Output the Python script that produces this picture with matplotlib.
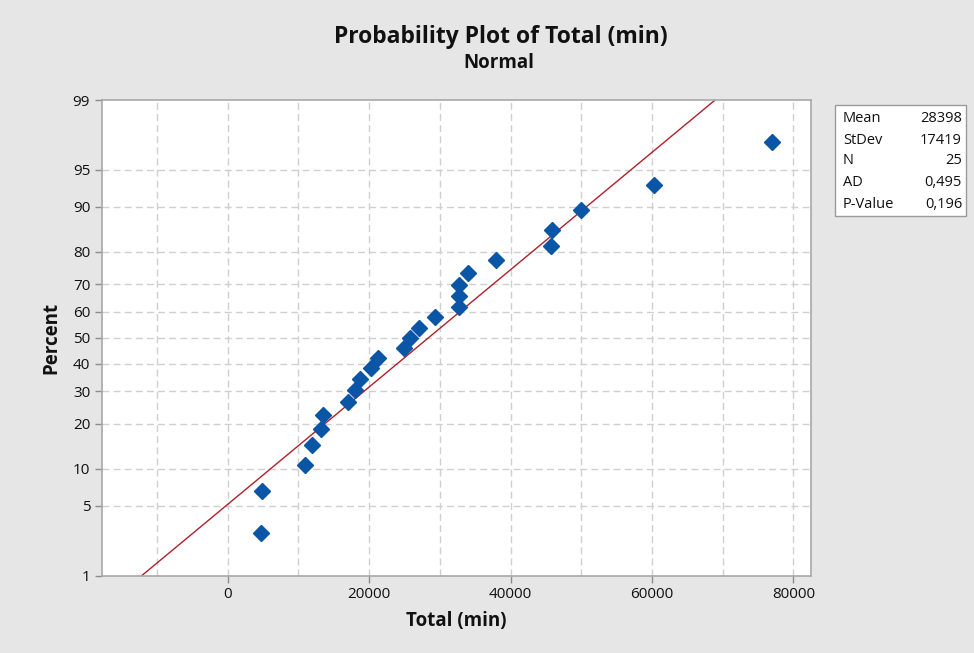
import numpy as np
import matplotlib
matplotlib.use("Agg")
import matplotlib.pyplot as plt
from matplotlib.patches import Rectangle
from statistics import NormalDist

# ---- data ----
total_min = [4650, 4850, 10880, 11980, 13130, 13530, 16970, 17940, 18720, 20270,
             21250, 24900, 25740, 27110, 29370, 32750, 32750, 32750, 34050, 37880,
             45680, 45880, 50020, 60350, 76980]
percent = [2.8, 6.7, 10.6, 14.6, 18.5, 22.4, 26.4, 30.3, 34.3, 38.2, 42.1, 46.1,
           50.0, 53.9, 57.9, 61.8, 65.7, 69.7, 73.6, 77.6, 81.5, 85.4, 89.4, 93.3, 97.2]
fit_mean = 28398
fit_stdev = 17419
stat_labels = ["Mean", "StDev", "N", "AD", "P-Value"]
stat_values = ["28398", "17419", "25", "0,495", "0,196"]
y_ticks = [1, 5, 10, 20, 30, 40, 50, 60, 70, 80, 90, 95, 99]
x_ticks = [0, 20000, 40000, 60000, 80000]
x_minor_grid = [-10000, 10000, 30000, 50000, 70000]

plt.rcParams['font.family'] = ['Open Sans', 'DejaVu Sans']

_nd = NormalDist()
_ppf = np.vectorize(lambda p: _nd.inv_cdf(min(max(p / 100.0, 1e-9), 1 - 1e-9)), otypes=[float])
_cdf = np.vectorize(lambda z: _nd.cdf(z) * 100.0, otypes=[float])

def fwd(p):
    return _ppf(np.asarray(p, dtype=float))

def inv(z):
    return _cdf(np.asarray(z, dtype=float))

W, H = 974, 653
fig = plt.figure(figsize=(W / 100, H / 100), dpi=100)
fig.patch.set_facecolor('#e6e6e6')

left, right, top, bottom = 102, 811, 100, 575.5
ax = fig.add_axes([left / W, 1 - bottom / H, (right - left) / W, (bottom - top) / H])
ax.set_facecolor('white')
ax.set_yscale('function', functions=(fwd, inv))
ax.set_ylim(1, 99)
ax.set_xlim(-17770, 82480)

grid_kw = dict(color='#cfcfcf', linestyle=(0, (5, 3)), linewidth=1.0, zorder=0)
for gx in x_ticks + x_minor_grid:
    ax.axvline(gx, **grid_kw)
for gy in y_ticks[1:-1]:
    ax.axhline(gy, **grid_kw)

# fitted line from 1% to 99%
dist = NormalDist(fit_mean, fit_stdev)
lx = [dist.inv_cdf(0.01), dist.inv_cdf(0.99)]
ax.plot(lx, [1, 99], color='#b0202a', linewidth=1.0, zorder=2)

ax.plot(total_min, percent, linestyle='none', marker='D', markersize=8.5,
        color='#0a55a5', markeredgecolor='#0a55a5', zorder=3)

ax.set_yticks(y_ticks)
ax.set_yticklabels([str(t) for t in y_ticks])
ax.set_xticks(x_ticks)
ax.set_xticklabels([str(t) for t in x_ticks])
ax.minorticks_off()
ax.tick_params(axis='both', colors='#8c8c8c', labelcolor='#111111', labelsize=11,
               length=5, width=1, direction='out')
for s in ax.spines.values():
    s.set_color('#a8a8a8')
    s.set_linewidth(1.2)

ax.set_ylabel('Percent', fontsize=13.5, fontweight='bold', color='#111111', labelpad=8)
ax.set_xlabel('Total (min)', fontsize=13.5, fontweight='bold', color='#111111', labelpad=6)

fig.text(501 / W, 1 - 37 / H, 'Probability Plot of Total (min)', ha='center', va='center',
         fontsize=16.5, fontweight='bold', color='#111111')
fig.text(499 / W, 1 - 63 / H, 'Normal', ha='center', va='center',
         fontsize=13.5, fontweight='bold', color='#111111')

# stats box
bx0, by0, bx1, by1 = 835, 105, 966, 216
fig.patches.append(Rectangle((bx0 / W, 1 - by1 / H), (bx1 - bx0) / W, (by1 - by0) / H,
                             transform=fig.transFigure, facecolor='white',
                             edgecolor='#9a9a9a', linewidth=1.0))
row_y = [119, 140, 161, 182, 204]
for lab, val, yy in zip(stat_labels, stat_values, row_y):
    fig.text(843 / W, 1 - yy / H, lab, ha='left', va='center', fontsize=10.5, color='#111111')
    fig.text(962 / W, 1 - yy / H, val, ha='right', va='center', fontsize=10.5, color='#111111')

fig.savefig('out.png', dpi=100, facecolor=fig.get_facecolor())
